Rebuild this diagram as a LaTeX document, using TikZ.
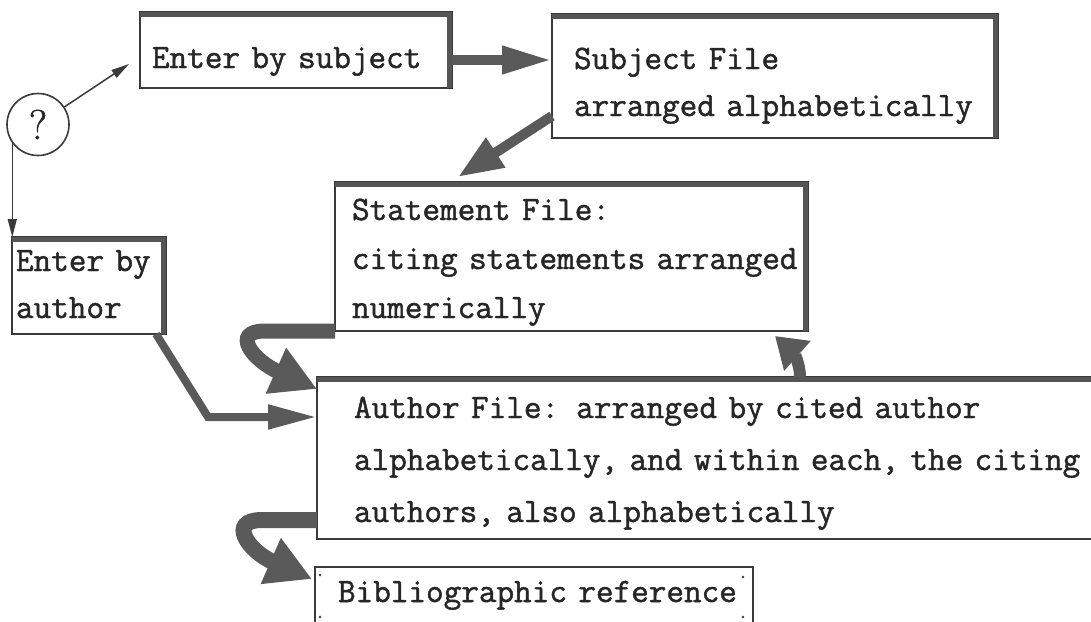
\documentclass[tikz,border=0pt]{standalone}
\usepackage{fontspec}
\newfontfamily\typew{Latin Modern Mono}[FakeBold=1.4]
\newfontfamily\qfont{Latin Modern Roman}[FakeBold=1.2]
\newcommand\twfont[1]{\typew\fontsize{34.2}{#1}\selectfont}
\usetikzlibrary{arrows.meta,calc}
\definecolor{ink}{HTML}{262626}
\definecolor{boxc}{HTML}{3A3A3A}
\definecolor{shadec}{HTML}{555555}
\definecolor{arrc}{HTML}{5A5A5A}
\tikzset{
  filebox/.style={draw=boxc, line width=1.3pt, inner ysep=0pt, outer sep=0pt,
    align=left, anchor=base west, text=ink, font={\twfont{#1}}},
  shadeline/.style={draw=shadec, line width=5pt, line cap=butt, line join=miter},
  fat/.style args={#1/#2/#3}{draw=arrc, line width=#1, line join=miter,
    -{Triangle[length=#2,width=#3]}},
  thinarrow/.style={draw=boxc, line width=1.5pt, -{Triangle[length=18pt,width=9pt]}},
  dotmark/.style={fill=boxc},
}
\begin{document}
\begin{tikzpicture}[x=1pt, y=-1pt]
\useasboundingbox[fill=white] (0,0) rectangle (1091,621);

% boxes
\node[filebox=46pt, inner xsep=12pt, text width=288pt, text height=56pt, text depth=20pt]
  (es) at (140,68) {\mbox{Enter by subject}};
\node[filebox=47pt, inner xsep=22pt, text width=402pt, text height=55pt, text depth=69pt]
  (sf) at (552,69) {Subject File\\\mbox{arranged alphabetically}};
\node[filebox=49pt, inner xsep=17pt, text width=439pt, text height=38pt, text depth=111pt]
  (st) at (335,220) {Statement File:\\\mbox{citing statements arranged}\\numerically};
\node[filebox=47pt, inner xsep=4pt, text width=146pt, text height=34pt, text depth=63pt]
  (ea) at (12,271) {\mbox{Enter by}\\author};
\node[filebox=52pt, inner xsep=37pt, text width=745pt, text height=41pt, text depth=121pt]
  (au) at (317,418) {\mbox{Author File: arranged by cited author}\\\mbox{alphabetically, and within each, the citing}\\\mbox{authors, also alphabetically}};
\node[filebox=40pt, inner xsep=23pt, text width=392pt, text height=35pt, text depth=33pt, line width=1.2pt]
  (bib) at (315,602) {\mbox{Bibliographic reference}};

% thick top/right edges
\foreach \n in {es,sf,st,ea}
  \draw[shadeline] ([yshift=-2.5pt]\n.north west) -- ([xshift=-2.5pt,yshift=-2.5pt]\n.north east)
    -- ([xshift=-2.5pt]\n.south east);
\draw[shadeline] ([yshift=-2.5pt]au.north west) -- ([yshift=-2.5pt]au.north east);

% dots of the bibliographic box
\fill[dotmark] ([xshift=5pt,yshift=-8pt]bib.north west) circle (1.3pt);
\fill[dotmark] ([xshift=5pt,yshift=-50pt]bib.north west) circle (1.3pt);
\fill[dotmark] ([xshift=-10pt,yshift=-10pt]bib.north east) circle (1.3pt);
\fill[dotmark] ([xshift=-10pt,yshift=-50pt]bib.north east) circle (1.3pt);

% question circle
\node[circle, draw=boxc, line width=1.6pt, minimum size=62pt, inner sep=0pt, text=ink,
  font=\qfont\fontsize{42}{42}\selectfont] (q) at (38,124.5) {?};
\coordinate (qe) at (129,64);
\draw[thinarrow] (q) -- (qe);
\draw[thinarrow] (q.216) -- (q.216 |- ea.north);

% connectors
\draw[fat=10pt/50pt/26pt] ([yshift=-10pt]es.east) -- ([yshift=-10pt]es.east -| sf.west);
\draw[fat=10pt/45pt/33pt] ([yshift=-40pt]sf.west) -- ([xshift=123pt,yshift=5pt]st.north west);
\draw[fat=15pt/45pt/47pt] (st.south west) -- ++(-70,0)
  .. controls +(-35,0) and +(-64,-28.5) .. ([yshift=-12pt]au.north west);
\draw[fat=8pt/49pt/23pt] ([xshift=-10pt]ea.south east) -- ++(52,83) -- ([yshift=41pt]au.west);
\coordinate (upx) at ([xshift=-8pt]st.south east);
\draw[fat=12pt/30pt/38pt] (upx |- au.north)
  .. controls +(0,-14) and +(18,16) .. ([xshift=-33pt,yshift=-5pt]st.south east);
\draw[fat=16pt/45pt/47pt] ([yshift=-62pt]au.west) -- ++(-55,0)
  .. controls +(-35,0) and +(-64,-28) .. ([xshift=-3pt,yshift=-12pt]bib.north west);
\end{tikzpicture}
\end{document}
